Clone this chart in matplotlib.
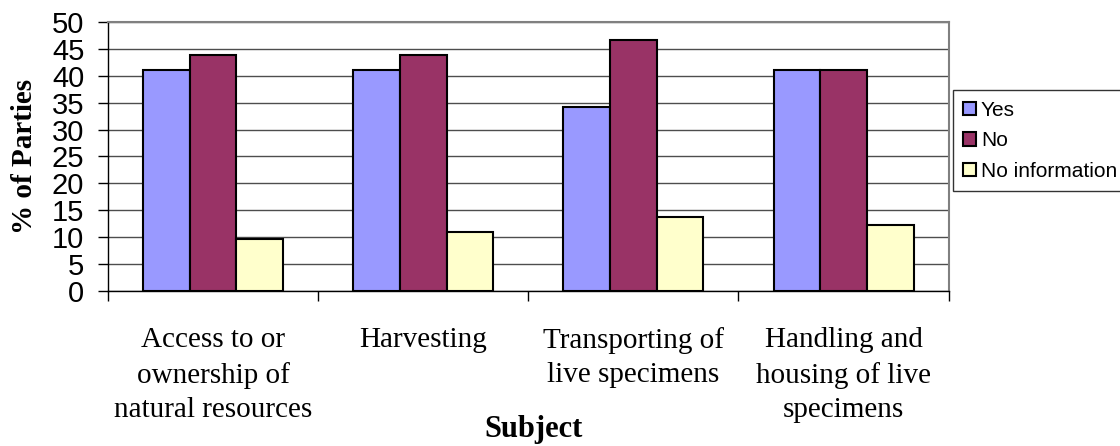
import numpy as np
import matplotlib.pyplot as plt

subjects = ["Access to or\nownership of\nnatural resources", "Harvesting",
            "Transporting of\nlive specimens", "Handling and\nhousing of live\nspecimens"]
yes = [41.1, 41.1, 34.2, 41.1]
no = [43.8, 43.8, 46.6, 41.1]
no_info = [9.6, 11.0, 13.7, 12.3]

series = [("Yes", yes, "#9999FF"), ("No", no, "#993366"), ("No information", no_info, "#FFFFCC")]

fig = plt.figure(figsize=(11.2, 4.46), dpi=100)
ax = fig.add_axes([0.0964, 0.3475, 0.7506, 0.6035])

x = np.arange(len(subjects))
w = 2 / 9
for i, (name, vals, col) in enumerate(series):
    ax.bar(x + (i - 1) * w, vals, w, color=col, edgecolor="black", linewidth=1.5,
           label=name, zorder=3)

ax.set_xlim(-0.5, len(subjects) - 0.5)
ax.set_ylim(0, 50)
ax.set_yticks(range(0, 51, 5))
ax.yaxis.grid(True, color="#4d4d4d", linewidth=1, zorder=0)
ax.set_axisbelow(True)

# category boundaries as major ticks, labels at centers
ax.set_xticks(np.arange(-0.5, len(subjects), 1))
ax.set_xticklabels([])
ax.set_xticks(x, minor=True)
ax.set_xticklabels(subjects, minor=True, family="Liberation Serif", fontsize=21,
                   linespacing=1.42)
ax.tick_params(axis="x", which="minor", length=0, pad=26)
ax.tick_params(axis="x", which="major", length=7, width=1, direction="out")
ax.tick_params(axis="y", length=7, width=1, labelsize=21, pad=10)
for t in ax.get_yticklabels():
    t.set_family("Liberation Sans")

for s in ["top", "right"]:
    ax.spines[s].set_color("#808080")
    ax.spines[s].set_linewidth(1.5)
for s in ["left", "bottom"]:
    ax.spines[s].set_color("black")
    ax.spines[s].set_linewidth(1)

ax.set_ylabel("% of Parties", family="Liberation Serif", fontweight="bold", fontsize=21,
              labelpad=10)
fig.text(0.476, 1 - 437 / 446, "Subject", family="Liberation Serif", fontweight="bold",
         fontsize=22, ha="center", va="baseline")

leg = ax.legend(loc="upper left", bbox_to_anchor=(1.005, 0.745), frameon=True,
                fancybox=False, edgecolor="black", handlelength=0.6, handleheight=0.6,
                handletextpad=0.25, borderpad=0.5, labelspacing=0.55, borderaxespad=0,
                prop={"family": "Liberation Sans", "size": 15})
leg.get_frame().set_linewidth(1)

fig.savefig("out.png", dpi=100)
